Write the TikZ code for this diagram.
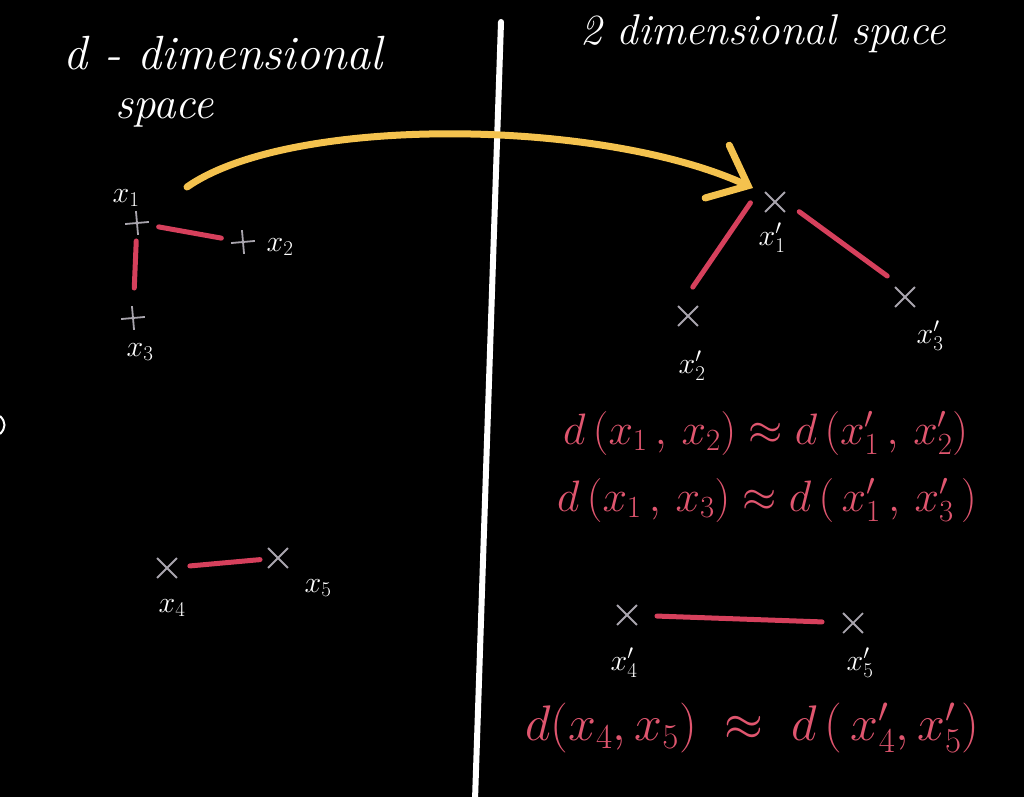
\RequirePackage{fix-cm}
\documentclass[tikz,border=0pt]{standalone}
\usetikzlibrary{arrows.meta,shapes.misc}
\definecolor{crossgray}{HTML}{A9A5AE}
\definecolor{linered}{HTML}{D6405C}
\definecolor{eqpink}{HTML}{E0566F}
\definecolor{yellowc}{HTML}{F4C24E}
\tikzset{
  crs/.style={shape=cross out, draw=crossgray, line width=1.8pt, minimum size=18pt, inner sep=0pt},
  pls/.style={shape=cross out, draw=crossgray, line width=1.8pt, minimum size=15pt, inner sep=0pt, rotate=50},
  lab/.style={text=white, font=\fontsize{30}{34}\selectfont, inner sep=0pt},
  eq/.style={text=eqpink, font=\fontsize{44}{52}\selectfont, anchor=west, inner sep=0pt},
  redline/.style={draw=linered, line width=5pt, line cap=round},
  hw/.style={text=white, font=\itshape\fontsize{48}{54}\selectfont, anchor=base west, inner sep=0pt},
  yarrow/.style={draw=yellowc, line width=7pt, line cap=round,
    -{Straight Barb[length=34pt 0, width=58pt 0, line cap=round]}},
}
\begin{document}
\begin{tikzpicture}[x=1pt,y=-1pt]
\fill[black] (0,0) rectangle (1024,797);
\useasboundingbox (0,0) rectangle (1024,797);

% divider
\coordinate (dtop) at (501,22);
\coordinate (dbot) at (475,800);
\draw[white, line width=6pt, line cap=round] (dtop) -- (dbot);

% small mark at left edge
\coordinate (m1) at (0,416);
\coordinate (m2) at (0,434);
\draw[white, line width=2pt] (m1) .. controls (6,422) and (6,428) .. (m2);

% headings
\node[hw] (h1) at (63,70) {d - dimensional};
\node[hw, font=\itshape\fontsize{45}{50}\selectfont] (h2) at (115,118) {space};
\node[hw, font=\itshape\fontsize{43}{48}\selectfont] (h3) at (580,45) {2 dimensional space};

% left points
\node[pls] (a1) at (137,223) {};
\node[pls] (a2) at (243,242) {};
\node[pls] (a3) at (133,318) {};
\node[crs] (a4) at (167,568) {};
\node[crs] (a5) at (278,558) {};
\node[lab] (la1) at (126,198) {$x_1$};
\node[lab] (la2) at (280,247) {$x_2$};
\node[lab] (la3) at (140,352) {$x_3$};
\node[lab] (la4) at (172,608) {$x_4$};
\node[lab] (la5) at (318,588) {$x_5$};

\draw[redline, shorten <=22pt, shorten >=22pt] (a1.center) -- (a2.center);
\draw[redline, shorten <=18pt, shorten >=30pt] (a1.center) -- (a3.center);
\draw[redline, shorten <=23pt, shorten >=18pt] (a4.center) -- (a5.center);

% right points
\node[crs] (b1) at (775,202) {};
\node[crs] (b2) at (688,316) {};
\node[crs] (b3) at (905,297) {};
\node[crs] (b4) at (627,615) {};
\node[crs] (b5) at (853,623) {};
\node[lab] (lb1) at (772,238) {$x'_1$};
\node[lab] (lb2) at (692,366) {$x'_2$};
\node[lab] (lb3) at (930,336) {$x'_3$};
\node[lab] (lb4) at (624,663) {$x'_4$};
\node[lab] (lb5) at (860,663) {$x'_5$};

\draw[redline, shorten <=1pt, shorten >=35pt] ([xshift=-24pt]b1.center) -- ([xshift=-15pt]b2.center);
\draw[redline, shorten <=30pt, shorten >=22pt] ([yshift=8pt]b1.center) -- ([yshift=8pt]b3.center);
\draw[redline, shorten <=30pt, shorten >=31pt] (b4.center) -- (b5.center);

% equations
\node[eq] (e1) at (563,433) {$d\,(x_1\, ,\, x_2) \approx d\,(x'_1\, ,\, x'_2)$};
\node[eq] (e2) at (557,500) {$d\,(x_1\, ,\, x_3) \approx d\,(\,x'_1\, ,\, x'_3\,)$};
\node[eq, font=\fontsize{50}{58}\selectfont] (e3) at (525,728) {$d(x_4, x_5) \;\approx\; d\,(\,x'_4, x'_5)$};

% yellow arrow
\coordinate (ys) at (187,187);
\coordinate (ye) at (753,188);
\draw[yarrow] (ys) .. controls (290,115) and (600,118) .. (ye);
\end{tikzpicture}
\end{document}
